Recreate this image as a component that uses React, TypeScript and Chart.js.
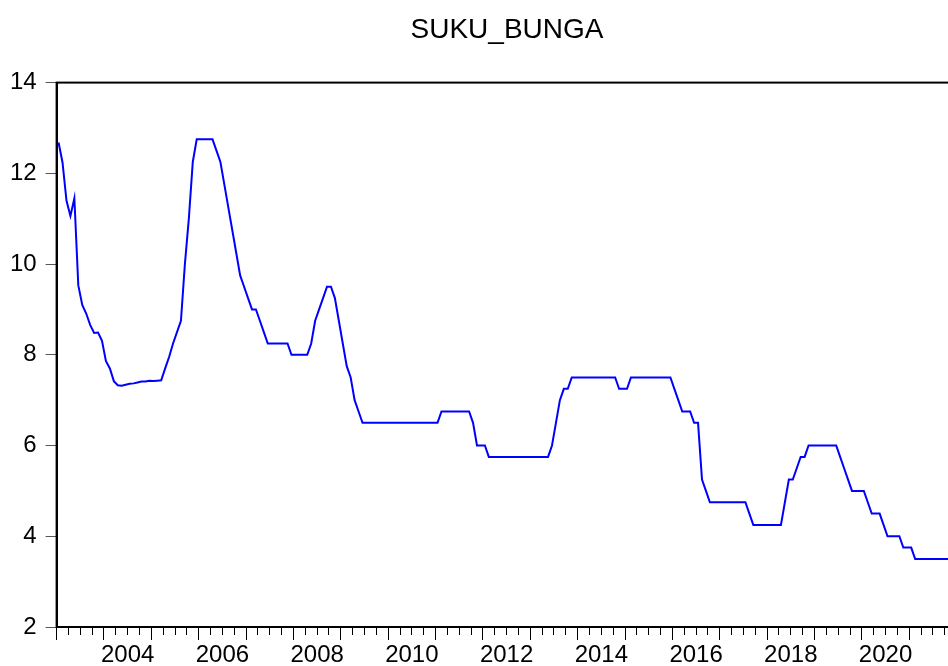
import React, { useEffect, useRef } from 'react';
import { Chart, registerables } from 'chart.js';

Chart.register(...registerables);

const TITLE = 'SUKU_BUNGA';
const START_YEAR = 2003;
const END_YEAR = 2022;

const rates2003 = [12.68, 12.24, 11.4, 11.06, 11.45, 9.53, 9.1, 8.91, 8.66, 8.48, 8.49, 8.31];
const rates2004 = [7.86, 7.7, 7.42, 7.33, 7.32, 7.34, 7.36, 7.37, 7.39, 7.41, 7.41, 7.43];
const rates2005 = [7.42, 7.43, 7.44, 7.7, 7.95, 8.25, 8.5, 8.75, 10.0, 11.0, 12.25, 12.75];
const rates2006 = [12.75, 12.75, 12.75, 12.75, 12.5, 12.25, 11.75, 11.25, 10.75, 10.25, 9.75, 9.5];
const rates2007 = [9.25, 9.0, 9.0, 8.75, 8.5, 8.25, 8.25, 8.25, 8.25, 8.25, 8.25, 8.0];
const rates2008 = [8.0, 8.0, 8.0, 8.0, 8.25, 8.75, 9.0, 9.25, 9.5, 9.5, 9.25, 8.75];
const rates2009 = [8.25, 7.75, 7.5, 7.0, 6.75, 6.5, 6.5, 6.5, 6.5, 6.5, 6.5, 6.5];
const rates2010 = [6.5, 6.5, 6.5, 6.5, 6.5, 6.5, 6.5, 6.5, 6.5, 6.5, 6.5, 6.5];
const rates2011 = [6.5, 6.75, 6.75, 6.75, 6.75, 6.75, 6.75, 6.75, 6.75, 6.5, 6.0, 6.0];
const rates2012 = [6.0, 5.75, 5.75, 5.75, 5.75, 5.75, 5.75, 5.75, 5.75, 5.75, 5.75, 5.75];
const rates2013 = [5.75, 5.75, 5.75, 5.75, 5.75, 6.0, 6.5, 7.0, 7.25, 7.25, 7.5, 7.5];
const rates2014 = [7.5, 7.5, 7.5, 7.5, 7.5, 7.5, 7.5, 7.5, 7.5, 7.5, 7.25, 7.25];
const rates2015 = [7.25, 7.5, 7.5, 7.5, 7.5, 7.5, 7.5, 7.5, 7.5, 7.5, 7.5, 7.5];
const rates2016 = [7.25, 7.0, 6.75, 6.75, 6.75, 6.5, 6.5, 5.25, 5.0, 4.75, 4.75, 4.75];
const rates2017 = [4.75, 4.75, 4.75, 4.75, 4.75, 4.75, 4.75, 4.5, 4.25, 4.25, 4.25, 4.25];
const rates2018 = [4.25, 4.25, 4.25, 4.25, 4.75, 5.25, 5.25, 5.5, 5.75, 5.75, 6.0, 6.0];
const rates2019 = [6.0, 6.0, 6.0, 6.0, 6.0, 6.0, 5.75, 5.5, 5.25, 5.0, 5.0, 5.0];
const rates2020 = [5.0, 4.75, 4.5, 4.5, 4.5, 4.25, 4.0, 4.0, 4.0, 4.0, 3.75, 3.75];
const rates2021 = [3.75, 3.5, 3.5, 3.5, 3.5, 3.5, 3.5, 3.5, 3.5, 3.5, 3.5, 3.5];

const yearlyRates = [
  rates2003, rates2004, rates2005, rates2006, rates2007, rates2008, rates2009,
  rates2010, rates2011, rates2012, rates2013, rates2014, rates2015, rates2016,
  rates2017, rates2018, rates2019, rates2020, rates2021,
];

const yTickValues = [2, 4, 6, 8, 10, 12, 14];
const xLabelYears = [2004, 2006, 2008, 2010, 2012, 2014, 2016, 2018, 2020];

const FONT = 'Liberation Sans, Arial, Helvetica, sans-serif';

const framePlugin = {
  id: 'frame',
  afterDraw(chart: any) {
    const { ctx, chartArea } = chart;
    ctx.save();
    ctx.strokeStyle = '#000';
    ctx.lineWidth = 2;
    ctx.strokeRect(chartArea.left, chartArea.top, chartArea.right - chartArea.left, chartArea.bottom - chartArea.top);
    ctx.restore();
  },
};

export default function App() {
  const ref = useRef<HTMLCanvasElement>(null);

  useEffect(() => {
    document.body.style.margin = '0';
    const points: { x: number; y: number }[] = [];
    yearlyRates.forEach((arr, yi) => {
      arr.forEach((v, m) => {
        points.push({ x: START_YEAR + yi + (m + 0.5) / 12, y: v });
      });
    });

    const chart = new Chart(ref.current as HTMLCanvasElement, {
      type: 'line',
      data: {
        datasets: [
          {
            data: points,
            borderColor: '#0000FF',
            borderWidth: 2,
            pointRadius: 0,
            tension: 0,
            fill: false,
          },
        ],
      },
      options: {
        animation: false,
        responsive: false,
        maintainAspectRatio: false,
        devicePixelRatio: 1,
        layout: { padding: 0 },
        plugins: {
          legend: { display: false },
          tooltip: { enabled: false },
          title: {
            display: true,
            text: TITLE,
            color: '#000',
            font: { family: FONT, size: 28, weight: 'normal', lineHeight: 1.2 },
            padding: { top: 13, bottom: 36 },
          },
        },
        scales: {
          x: {
            type: 'linear',
            position: 'bottom',
            min: START_YEAR,
            max: END_YEAR,
            afterBuildTicks: (scale: any) => {
              const ticks = [];
              for (let q = 0; q <= (END_YEAR - START_YEAR) * 4; q++) {
                ticks.push({ value: START_YEAR + q / 4 });
              }
              scale.ticks = ticks;
            },
            afterFit: (scale: any) => {
              scale.height = 39;
            },
            grid: {
              drawOnChartArea: false,
              drawTicks: true,
              tickLength: 13,
              tickColor: '#000',
              tickWidth: 1,
              tickBorderDash: (ctx: any) =>
                ctx.tick && Number.isInteger(ctx.tick.value) ? [] : [7, 100],
            },
            border: { display: true, color: '#000', width: 2 },
            ticks: {
              autoSkip: false,
              maxRotation: 0,
              minRotation: 0,
              padding: 1,
              color: '#000',
              font: { family: FONT, size: 24 },
              callback: (value: any) => {
                const y = Number(value) - 0.5;
                return xLabelYears.includes(y) ? String(y) : '';
              },
            },
          },
          y: {
            type: 'linear',
            position: 'left',
            min: 2,
            max: 14,
            afterBuildTicks: (scale: any) => {
              scale.ticks = yTickValues.map((v) => ({ value: v }));
            },
            afterFit: (scale: any) => {
              scale.width = 56.6;
            },
            grid: {
              drawOnChartArea: false,
              drawTicks: true,
              tickLength: 11,
              tickColor: '#555',
              tickWidth: 1,
            },
            border: { display: true, color: '#000', width: 2 },
            ticks: {
              padding: 9,
              color: '#000',
              font: { family: FONT, size: 24 },
              callback: (value: any) => String(value),
            },
          },
          yRight: {
            type: 'linear',
            position: 'right',
            display: true,
            grid: { display: false, drawTicks: false },
            border: { display: false },
            ticks: { display: false },
            afterFit: (scale: any) => {
              scale.width = 57.4;
            },
          },
        },
      } as any,
      plugins: [framePlugin],
    });

    return () => chart.destroy();
  }, []);

  return (
    <div style={{ width: 948, height: 666, overflow: 'hidden', background: '#fff' }}>
      <canvas ref={ref} width={1014} height={666} style={{ display: 'block' }} />
    </div>
  );
}
